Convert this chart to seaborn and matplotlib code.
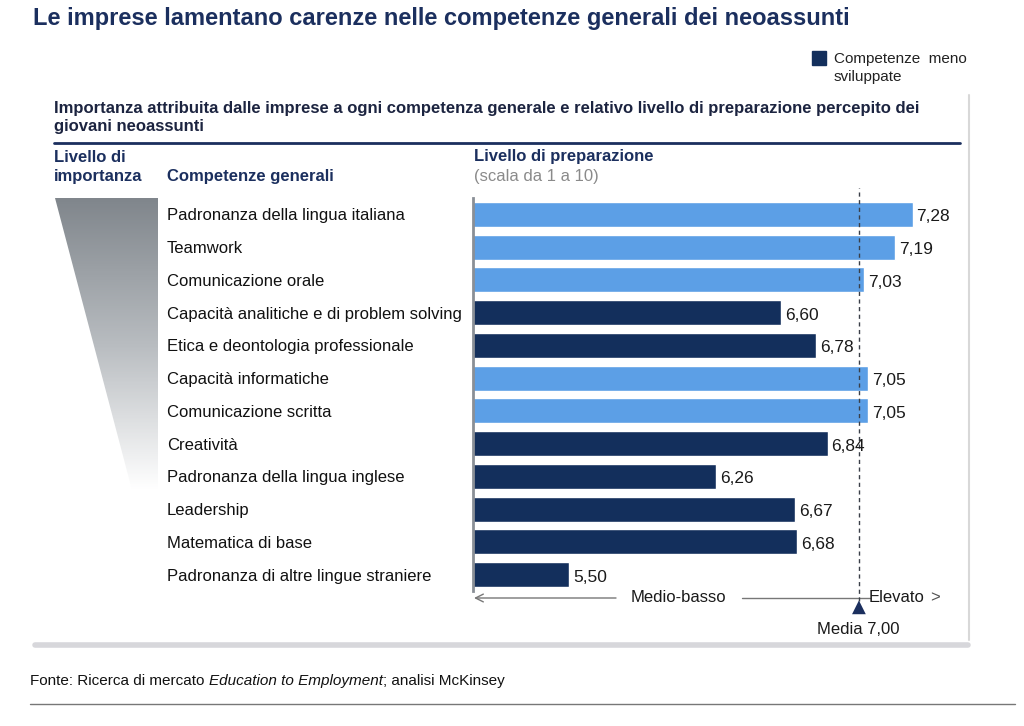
import matplotlib
matplotlib.use("Agg")
import matplotlib.pyplot as plt
import matplotlib.transforms as mtransforms
import seaborn as sns
import numpy as np
import pandas as pd
from matplotlib.patches import Polygon, Rectangle
from matplotlib.lines import Line2D

# ---- data ----
categories = [
    "Padronanza della lingua italiana",
    "Teamwork",
    "Comunicazione orale",
    "Capacità analitiche e di problem solving",
    "Etica e deontologia professionale",
    "Capacità informatiche",
    "Comunicazione scritta",
    "Creatività",
    "Padronanza della lingua inglese",
    "Leadership",
    "Matematica di base",
    "Padronanza di altre lingue straniere",
]
values = [7.28, 7.19, 7.03, 6.60, 6.78, 7.05, 7.05, 6.84, 6.26, 6.67, 6.68, 5.50]
groups = ["altre", "altre", "altre", "meno", "meno", "altre", "altre",
          "meno", "meno", "meno", "meno", "meno"]
media = 7.00

LIGHT = "#5c9fe6"
DARK = "#132f5c"
NAVY = "#1b2f5e"

sns.set_theme(style="white")
plt.rcParams["font.family"] = ["Liberation Sans", "DejaVu Sans"]

W, H = 1024, 726
fig = plt.figure(figsize=(W / 100, H / 100), dpi=100)
fig.patch.set_facecolor("white")

# decoration layer in pixel coordinates (y downwards)
deco = fig.add_axes([0, 0, 1, 1], zorder=0)
deco.set_xlim(0, W)
deco.set_ylim(H, 0)
deco.axis("off")

# ---- main bar axes ----
ax_left, ax_right = 473, 955
ax_top, ax_bot = 198, 591
ax = fig.add_axes([ax_left / W, 1 - ax_bot / H, (ax_right - ax_left) / W, (ax_bot - ax_top) / H], zorder=2)
ax.patch.set_alpha(0)

df = pd.DataFrame({"comp": categories, "val": values, "grp": groups})
sns.barplot(data=df, x="val", y="comp", hue="grp", palette={"altre": LIGHT, "meno": DARK},
            dodge=False, orient="h", width=0.77, legend=False, ax=ax, saturation=1)
ax.set_xlim(5.0, 7.5)
ax.set_ylim(len(categories) - 0.5, -0.5)
ax.set_xlabel("")
ax.set_ylabel("")
ax.set_xticks([])
ax.set_yticks([])
for s in ["top", "right", "bottom"]:
    ax.spines[s].set_visible(False)
ax.spines["left"].set_color("#8a8f96")
ax.spines["left"].set_linewidth(2)

for i, v in enumerate(values):
    ax.text(v + 0.02, i + 0.08, f"{v:.2f}".replace(".", ","), va="center", ha="left",
            fontsize=12.5, color="#1a1a1a")

# media dashed line
ax.axvline(media, ymin=-0.025, ymax=1.025, color="#3a3f48", lw=1, ls=(0, (3, 2.5)),
           clip_on=False, zorder=1)

# category labels (left column)
for i, c in enumerate(categories):
    ax.annotate(c, xy=(0, i), xycoords=("figure pixels", "data"), xytext=(167, 0),
                textcoords=("figure pixels", "offset points"), va="center_baseline", ha="left",
                fontsize=12, color="#111111", annotation_clip=False)

# triangle marker and media text
tri_y = H - 607
ax.annotate("\u25B2", xy=(media, tri_y), xycoords=("data", "figure pixels"), ha="center", va="center",
            fontsize=13, color=NAVY, annotation_clip=False, family="DejaVu Sans")
ax.annotate("Media 7,00", xy=(media, H - 629), xycoords=("data", "figure pixels"), ha="center",
            va="center", fontsize=12, color="#1a1a1a", annotation_clip=False)

# ---- scale arrow line ----
ay = 598
deco.annotate("", xy=(474, ay), xytext=(616, ay), xycoords="data",
              arrowprops=dict(arrowstyle="->", color="#777777", lw=1, mutation_scale=14,
                              shrinkA=0, shrinkB=0))
deco.text(678, ay, "Medio-basso", ha="center", va="center", fontsize=12, color="#1a1a1a")
deco.add_line(Line2D([742, 870], [ay, ay], color="#777777", lw=1))
deco.text(869, ay, "Elevato", ha="left", va="center", fontsize=12, color="#1a1a1a")
deco.text(930, ay, ">", ha="left", va="center", fontsize=12, color="#555555")

# ---- gradient importance wedge ----
grad = np.linspace(0, 1, 200).reshape(-1, 1)
cmap = matplotlib.colors.LinearSegmentedColormap.from_list("g", ["#80868c", "#b8bcc0", "#ffffff"])
im = deco.imshow(grad, extent=[55, 158, 490, 198], origin="upper", cmap=cmap, aspect="auto", zorder=1)
wedge = Polygon([(55, 198), (158, 198), (158, 490), (132, 490)], closed=True, transform=deco.transData)
im.set_clip_path(wedge)
deco.set_xlim(0, W)
deco.set_ylim(H, 0)

# ---- texts ----
deco.text(33, 18, "Le imprese lamentano carenze nelle competenze generali dei neoassunti",
          fontsize=17, fontweight="bold", color=NAVY, ha="left", va="center")

deco.add_patch(Rectangle((812, 51), 14, 14, color=DARK))
deco.text(834, 59, "Competenze  meno", fontsize=11, color="#222222", ha="left", va="center")
deco.text(834, 77, "sviluppate", fontsize=11, color="#222222", ha="left", va="center")

deco.text(54, 108, "Importanza attribuita dalle imprese a ogni competenza generale e relativo livello di preparazione percepito dei",
          fontsize=12, fontweight="bold", color="#1c2440", ha="left", va="center")
deco.text(54, 126, "giovani neoassunti", fontsize=12, fontweight="bold", color="#1c2440",
          ha="left", va="center")
deco.add_line(Line2D([54, 960], [143, 143], color=NAVY, lw=2))

deco.text(54, 157, "Livello di", fontsize=12, fontweight="bold", color=NAVY, ha="left", va="center")
deco.text(54, 176, "importanza", fontsize=12, fontweight="bold", color=NAVY, ha="left", va="center")
deco.text(167, 176, "Competenze generali", fontsize=12, fontweight="bold", color=NAVY,
          ha="left", va="center")
deco.text(474, 157, "Livello di preparazione", fontsize=12, fontweight="bold", color=NAVY,
          ha="left", va="center")
deco.text(474, 177, "(scala da 1 a 10)", fontsize=12, color="#8a8a8a", ha="left", va="center")

# panel shadow frame
deco.add_line(Line2D([969, 969], [95, 640], color="#d8d8d8", lw=1.5))
deco.add_line(Line2D([35, 968], [645, 645], color="#cdcdd2", lw=4, alpha=0.8))

# footer (mixed roman / italic)
ident = mtransforms.blended_transform_factory(mtransforms.IdentityTransform(), deco.transData)
t1 = deco.text(30, 681, "Fonte: Ricerca di mercato ", fontsize=11, color="#111111",
               ha="left", va="center")
fig.canvas.draw()
x1 = t1.get_window_extent().x1
t2 = deco.text(x1, 681, "Education to Employment", fontsize=11, style="italic", color="#111111",
               ha="left", va="center", transform=ident)
fig.canvas.draw()
x2 = t2.get_window_extent().x1
deco.text(x2, 681, "; analisi McKinsey", fontsize=11, color="#111111", ha="left", va="center",
          transform=ident)
deco.add_line(Line2D([30, 1015], [704, 704], color="#777777", lw=1))

fig.savefig("out.png", dpi=100, facecolor="white")
